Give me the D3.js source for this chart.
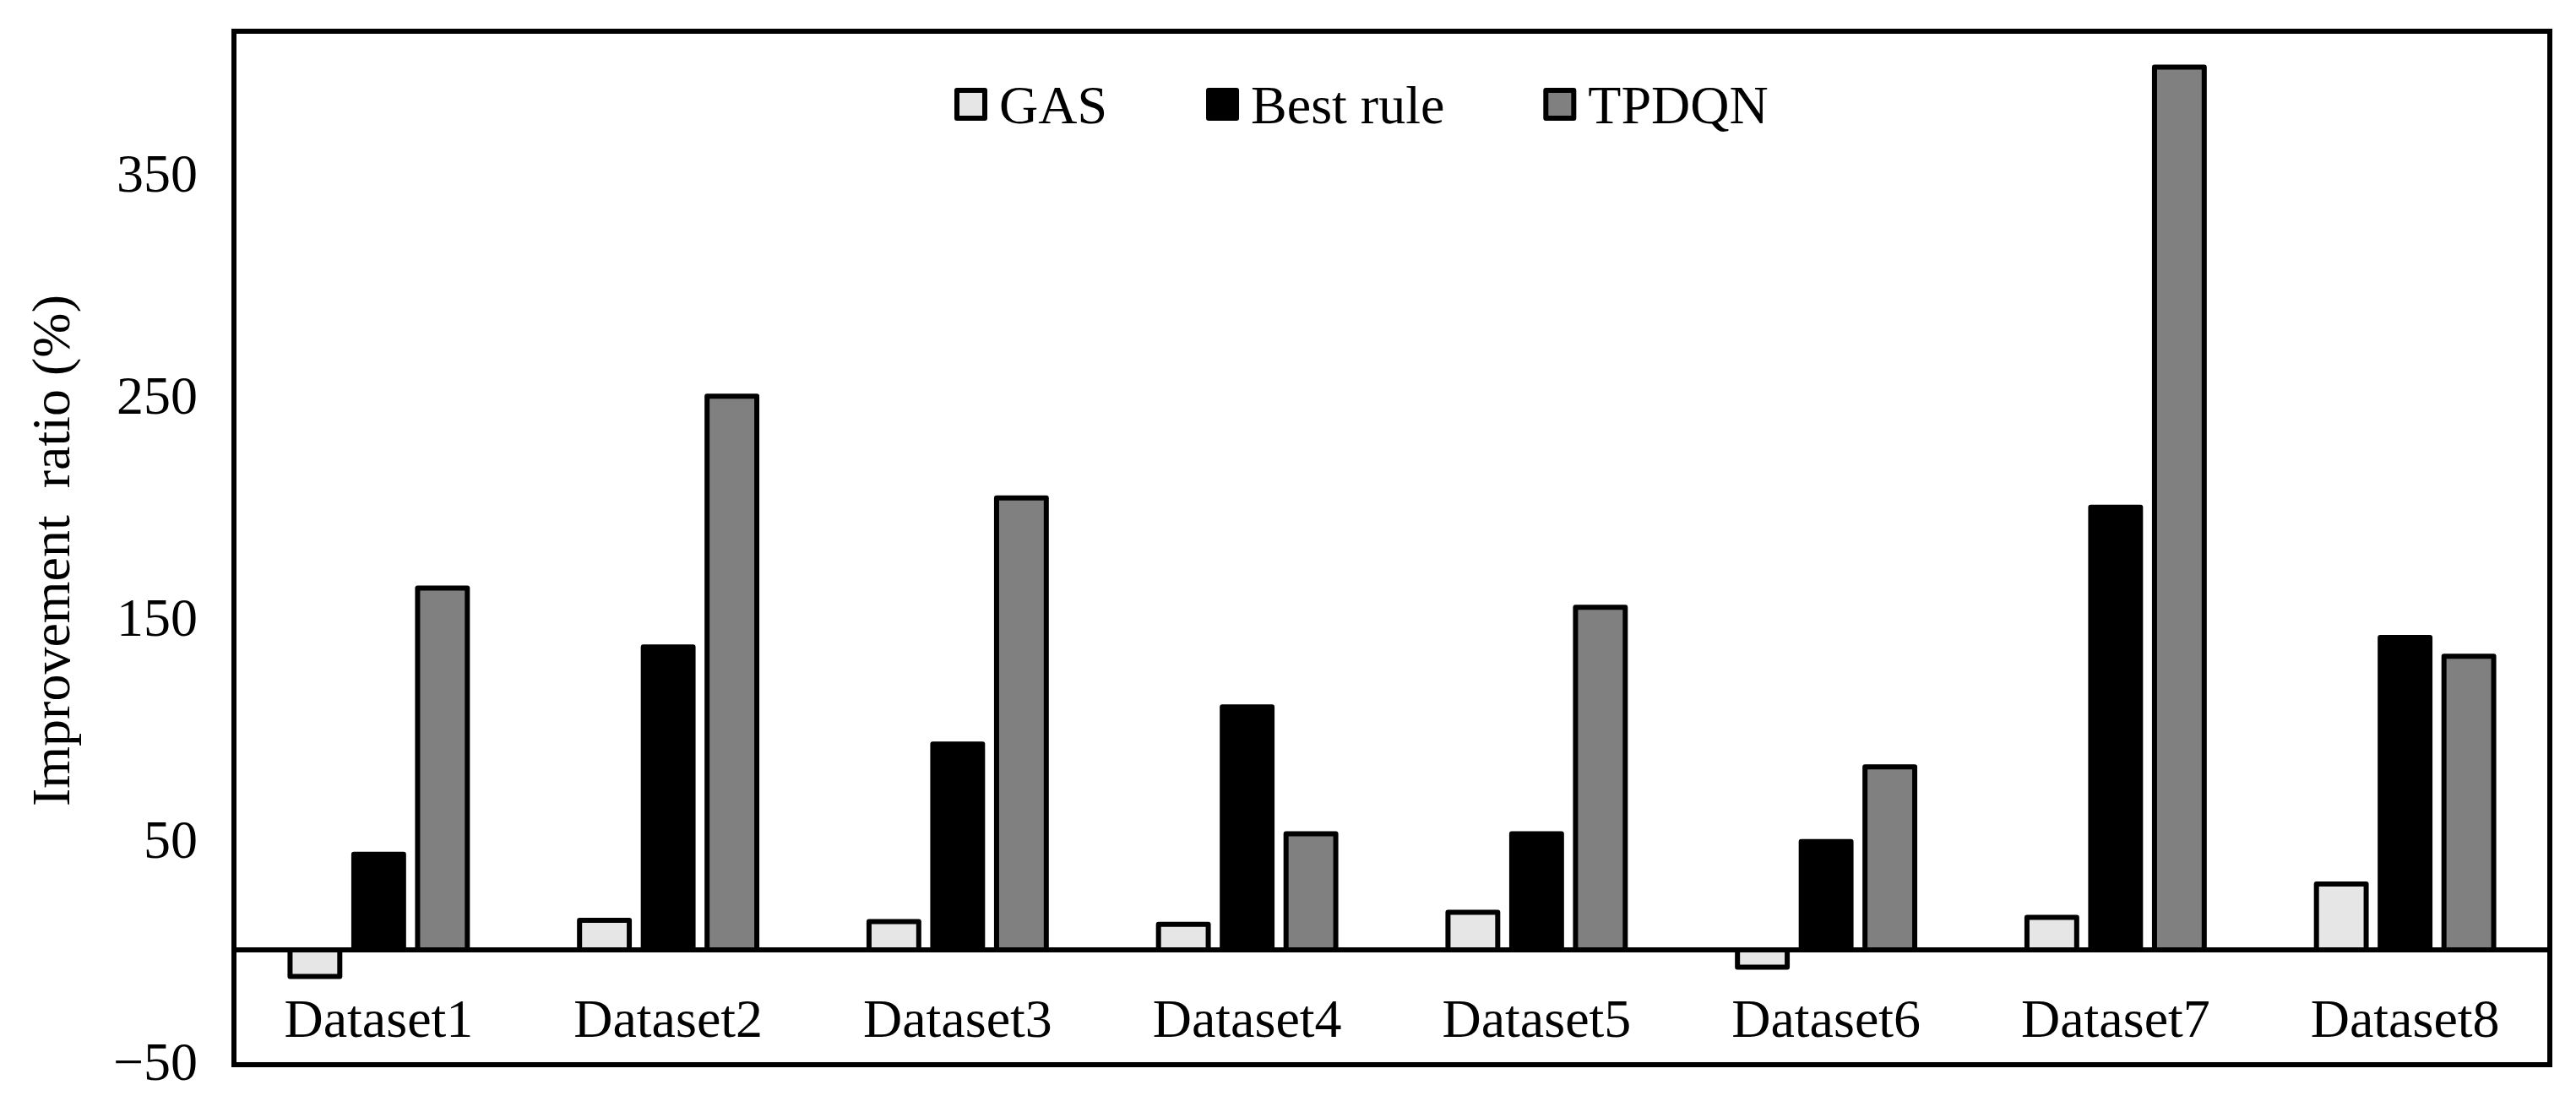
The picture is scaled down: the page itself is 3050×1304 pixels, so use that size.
<!DOCTYPE html>
<html>
<head>
<meta charset="utf-8">
<script src="https://cdn.jsdelivr.net/npm/d3@7"></script>
<style>
  html, body { margin: 0; padding: 0; background: #fff; }
  svg { display: block; }
  text { font-family: "Liberation Serif", "Times New Roman", serif; fill: #000; }
</style>
</head>
<body>
<script>
// ---- data ----
const categories = ["Dataset1", "Dataset2", "Dataset3", "Dataset4", "Dataset5", "Dataset6", "Dataset7", "Dataset8"];
const seriesNames = ["GAS", "Best rule", "TPDQN"];
const gasValues   = [-12, 13.3, 12.7, 11.5, 16.9, -7.8, 14.6, 29.7];
const bestValues  = [43.1, 136.4, 92.7, 109.4, 52.3, 48.8, 199.3, 140.7];
const tpdqnValues = [162.9, 249.3, 203.5, 52.3, 154.3, 82.4, 397.5, 132.2];
const yTickValues = [-50, 50, 150, 250, 350];
const yAxisTitle = "Improvement  ratio (%)";

// ---- styling / layout ----
const W = 3050, H = 1304;
const frame = { left: 277, right: 3019, top: 37, bottom: 1261 };
const colors = { "GAS": "#e6e6e6", "Best rule": "#000000", "TPDQN": "#808080" };
const fontSize = 64;
const strokeW = 6;

const seriesValues = { "GAS": gasValues, "Best rule": bestValues, "TPDQN": tpdqnValues };
const rows = categories.map((c, i) => ({
  cat: c,
  vals: seriesNames.map(s => ({ series: s, value: seriesValues[s][i] }))
}));

const svg = d3.select("body").append("svg")
  .attr("width", W).attr("height", H)
  .attr("viewBox", `0 0 ${W} ${H}`);

svg.append("rect").attr("width", W).attr("height", H).attr("fill", "#fff");

// scales
const x0 = d3.scaleBand().domain(categories).range([frame.left, frame.right]).padding(0);
const groupWidth = 226.5;
const x1 = d3.scaleBand().domain(seriesNames)
  .range([-groupWidth / 2, groupWidth / 2])
  .paddingInner(0.22).paddingOuter(0.11);
const y = d3.scaleLinear().domain([-50, 400]).range([1256.5, 73]);

// y tick labels via d3 axis (no line / tick marks)
const yAxis = d3.axisLeft(y).tickValues(yTickValues).tickSize(0).tickPadding(0)
  .tickFormat(d => d < 0 ? "\u2212" + Math.abs(d) : String(d));
const gy = svg.append("g").attr("transform", `translate(234,0)`).call(yAxis);
gy.select(".domain").remove();
gy.selectAll("text")
  .attr("font-size", fontSize)
  .style("font-family", '"Liberation Serif", "Times New Roman", serif')
  .attr("fill", "#000")
  .attr("dy", "0.34em");

// bars
const groups = svg.append("g").selectAll("g.grp")
  .data(rows).join("g")
  .attr("class", "grp")
  .attr("transform", d => `translate(${x0(d.cat) + x0.bandwidth() / 2},0)`);

groups.selectAll("rect")
  .data(d => d.vals).join("rect")
  .attr("x", d => x1(d.series))
  .attr("width", x1.bandwidth())
  .attr("y", d => y(Math.max(0, d.value)))
  .attr("height", d => Math.abs(y(d.value) - y(0)))
  .attr("fill", d => colors[d.series])
  .attr("stroke", "#000")
  .attr("stroke-width", strokeW)
  .attr("stroke-linejoin", "round");

// zero baseline
svg.append("line")
  .attr("x1", frame.left).attr("x2", frame.right)
  .attr("y1", y(0)).attr("y2", y(0))
  .attr("stroke", "#000").attr("stroke-width", strokeW);

// category labels via bottom axis positioned below baseline
const xAxis = d3.axisBottom(x0).tickSize(0).tickPadding(0);
const gx = svg.append("g").attr("transform", `translate(0,1228)`).call(xAxis);
gx.select(".domain").remove();
gx.selectAll("text")
  .attr("font-size", fontSize)
  .style("font-family", '"Liberation Serif", "Times New Roman", serif')
  .attr("fill", "#000")
  .attr("y", 0).attr("dy", 0);

// frame
svg.append("rect")
  .attr("x", frame.left).attr("y", frame.top)
  .attr("width", frame.right - frame.left)
  .attr("height", frame.bottom - frame.top)
  .attr("fill", "none").attr("stroke", "#000").attr("stroke-width", strokeW);

// y axis title
svg.append("text")
  .attr("transform", `translate(82,${(frame.top + frame.bottom) / 2 + 3}) rotate(-90)`)
  .attr("text-anchor", "middle")
  .attr("font-size", fontSize)
  .style("white-space", "pre")
  .text(yAxisTitle);

// legend
const legend = svg.append("g");
let lx = 1130;
const boxSize = 39, boxTop = 104, baseline = 146;
seriesNames.forEach(s => {
  legend.append("rect")
    .attr("x", lx + strokeW / 2).attr("y", boxTop + strokeW / 2)
    .attr("width", boxSize - strokeW).attr("height", boxSize - strokeW)
    .attr("fill", colors[s]).attr("stroke", "#000")
    .attr("stroke-width", strokeW).attr("stroke-linejoin", "round");
  const t = legend.append("text")
    .attr("x", lx + boxSize + 14).attr("y", baseline)
    .attr("font-size", fontSize)
    .text(s);
  const tw = t.node().getComputedTextLength();
  lx = lx + boxSize + 14 + tw + 117;
});
</script>
</body>
</html>
